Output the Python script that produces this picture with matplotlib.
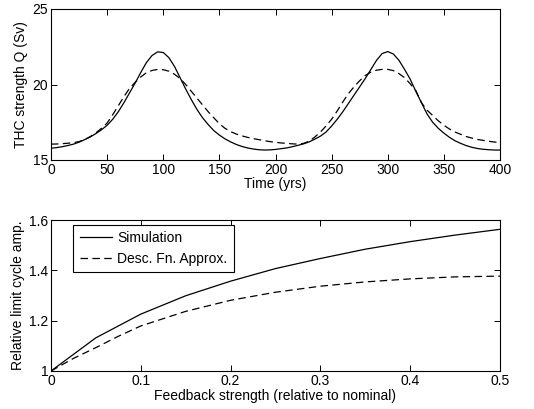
import matplotlib
matplotlib.use("Agg")
import matplotlib.pyplot as plt

plt.rcParams['font.family'] = ['Liberation Sans', 'DejaVu Sans']
plt.rcParams['font.size'] = 10

# Top panel data (time in years, every 5 years)
time_yrs = list(range(0, 401, 5))
q_sim = [15.78, 15.82, 15.88, 15.96, 16.05, 16.18, 16.35, 16.53, 16.75, 17.0,
         17.3, 17.7, 18.2, 18.8, 19.45, 20.1, 20.8, 21.45, 21.92, 22.16,
         22.12, 21.78, 21.2, 20.45, 19.7, 19.0, 18.35, 17.8, 17.35, 16.95,
         16.65, 16.4, 16.2, 16.03, 15.9, 15.8, 15.73, 15.68, 15.66, 15.67,
         15.7, 15.75, 15.8, 15.88, 15.97, 16.07, 16.2, 16.38, 16.58, 16.85,
         17.25, 17.7, 18.2, 18.75, 19.3, 19.85, 20.4, 21.0, 21.6, 22.05,
         22.18, 22.02, 21.6, 21.0, 20.35, 19.55, 18.8, 18.05, 17.5, 17.1,
         16.78, 16.5, 16.27, 16.1, 15.95, 15.84, 15.76, 15.71, 15.68, 15.66,
         15.66]
q_df = [16.05, 16.06, 16.08, 16.11, 16.15, 16.22, 16.35, 16.55, 16.8, 17.1,
        17.45, 18.0, 18.6, 19.2, 19.75, 20.15, 20.5, 20.78, 20.93, 21.0,
        20.98, 20.88, 20.68, 20.4, 20.0, 19.55, 19.1, 18.65, 18.2, 17.8,
        17.4, 17.1, 16.88, 16.72, 16.6, 16.5, 16.42, 16.35, 16.28, 16.22,
        16.17, 16.13, 16.1, 16.07, 16.05, 16.1, 16.25, 16.52, 16.85, 17.25,
        17.7, 18.25, 18.85, 19.4, 19.85, 20.25, 20.6, 20.82, 20.95, 21.0,
        21.0, 20.92, 20.72, 20.45, 20.05, 19.6, 18.8, 18.3, 17.95, 17.6,
        17.3, 17.05, 16.85, 16.7, 16.55, 16.45, 16.36, 16.3, 16.24, 16.19,
        16.15]

# Bottom panel data
feedback = [0, 0.05, 0.1, 0.15, 0.2, 0.25, 0.3, 0.35, 0.4, 0.45, 0.5]
amp_sim = [1.0, 1.132, 1.226, 1.299, 1.357, 1.407, 1.447, 1.484, 1.514, 1.540, 1.563]
feedback_df = [0, 0.025, 0.05, 0.075, 0.1, 0.15, 0.2, 0.25, 0.3, 0.35, 0.4, 0.45, 0.5]
amp_df = [1.0, 1.05, 1.093, 1.138, 1.179, 1.237, 1.281, 1.313, 1.337, 1.354, 1.366, 1.374, 1.377]

W, H = 534, 409
fig = plt.figure(figsize=(W / 100, H / 100), dpi=100)

def box(top, bottom, left=51, right=500):
    return [left / W, 1 - bottom / H, (right - left) / W, (bottom - top) / H]

ax1 = fig.add_axes(box(9, 160))
ax2 = fig.add_axes(box(220, 371))

dash = (6, 3.5)
ax1.plot(time_yrs, q_sim, color='black', lw=0.9)
ax1.plot(time_yrs, q_df, color='black', lw=0.9, linestyle=(0, dash))
ax1.set_xlim(0, 400)
ax1.set_ylim(15, 25)
ax1.set_xticks(range(0, 401, 50))
ax1.set_yticks([15, 20, 25])
ax1.set_xlabel('Time (yrs)', labelpad=0)
ax1.set_ylabel('THC strength Q (Sv)', labelpad=3)

ax2.plot(feedback, amp_sim, color='black', lw=0.9, label='Simulation')
ax2.plot(feedback_df, amp_df, color='black', lw=0.9, linestyle=(0, dash),
         label='Desc. Fn. Approx.')
ax2.set_xlim(0, 0.5)
ax2.set_ylim(1, 1.6)
ax2.set_xticks([0, 0.1, 0.2, 0.3, 0.4, 0.5])
ax2.set_xticklabels(['0', '0.1', '0.2', '0.3', '0.4', '0.5'])
ax2.set_yticks([1, 1.2, 1.4, 1.6])
ax2.set_yticklabels(['1', '1.2', '1.4', '1.6'])
ax2.set_xlabel('Feedback strength (relative to nominal)', labelpad=1)
ax2.set_ylabel('Relative limit cycle amp.', labelpad=3)
leg = ax2.legend(loc='upper left', bbox_to_anchor=(0.05, 0.97), frameon=True,
                 fancybox=False, edgecolor='black', framealpha=1,
                 handlelength=2.3, handletextpad=0.4, borderpad=0.45,
                 labelspacing=0.5, borderaxespad=0)
leg.get_frame().set_linewidth(0.8)

for ax in (ax1, ax2):
    ax.tick_params(direction='in', length=4, width=0.7, top=True, right=True,
                   labelsize=10, pad=2)
    for s in ax.spines.values():
        s.set_linewidth(0.8)

fig.savefig('out.png', dpi=100)
